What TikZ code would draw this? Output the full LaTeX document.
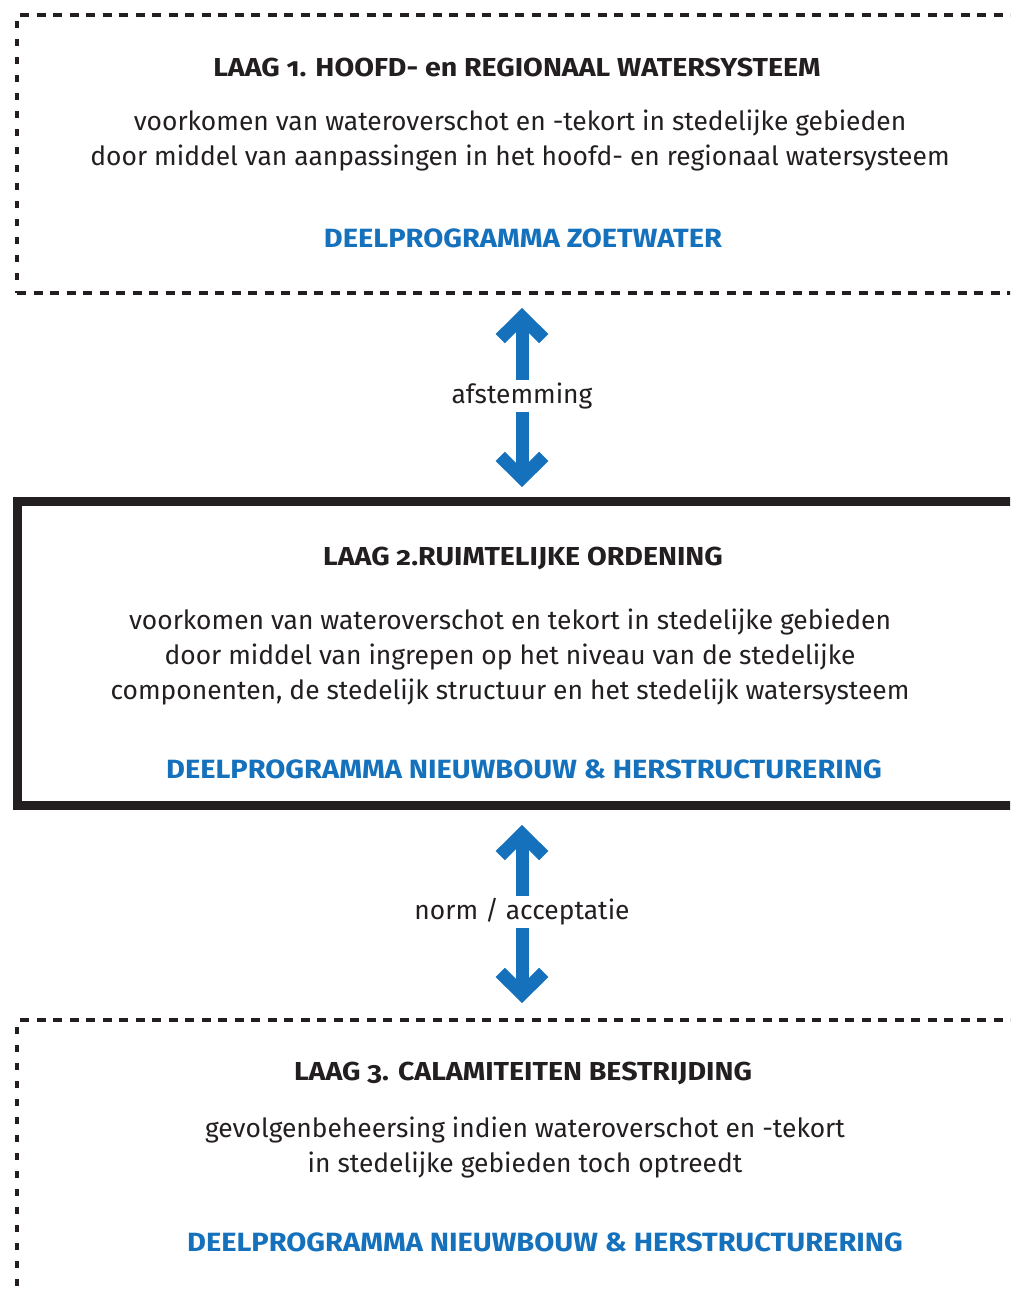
\documentclass[tikz,border=0pt]{standalone}
\usepackage{fontspec}
\setmainfont{Fira Sans}[Numbers=OldStyle]
\newfontfamily\widesans{Fira Sans}[Numbers=OldStyle,FakeStretch=1.1]
\definecolor{ink}{RGB}{35,31,32}
\definecolor{rijksblue}{RGB}{21,113,187}
\begin{document}
\begin{tikzpicture}[x=1pt,y=-1pt,
  hdash/.style={draw=ink,line width=4pt,dash pattern=on 9pt off 7.5pt},
  vdash/.style={draw=ink,line width=4pt,dash pattern=on 7pt off 11pt},
  solidbox/.style={draw=ink,line width=9pt,line join=miter},
  title/.style={font=\widesans\fontsize{26}{30}\selectfont\bfseries,text=ink,inner sep=0pt},
  body/.style={font=\fontsize{26.4}{35}\selectfont,text=ink,align=center,inner sep=0pt},
  prog/.style={font=\widesans\fontsize{26.4}{30}\selectfont\bfseries,text=rijksblue,inner sep=0pt},
  link/.style={font=\fontsize{26.4}{30}\selectfont,text=ink,inner sep=0pt,minimum height=31pt},
  shaft/.style={draw=rijksblue,line width=13pt},
  chevron/.style={draw=rijksblue,line width=13pt,line join=miter,miter limit=4}]
\useasboundingbox (0,0) rectangle (1010,1293);
\begin{scope}
\clip (0,0) rectangle (1010,1293);

% layer 1: dashed frame
\draw[hdash] (20,15) -- (1040,15);
\draw[hdash] (17,293) -- (1040,293);
\draw[vdash] (17,21) -- (17,293);

% layer 2: solid frame
\draw[solidbox] (17,501) rectangle (1060,805);

% layer 3: dashed frame, open below
\draw[hdash] (20,1020) -- (1040,1020);
\draw[vdash] (17,1027) -- (17,1310);
\end{scope}

% layer 1 texts
\node[title] (t1) at (517,67) {LAAG 1. HOOFD- en REGIONAAL WATERSYSTEEM};
\node[body]  (b1) at (520,141) {voorkomen van wateroverschot en -tekort in stedelijke gebieden\\door middel van aanpassingen in het hoofd- en regionaal watersysteem};
\node[prog]  (p1) at (523,238) {DEELPROGRAMMA ZOETWATER};

% layer 2 texts
\node[title] (t2) at (523,558) {LAAG 2.RUIMTELIJKE ORDENING};
\node[body]  (b2) at (510,657) {voorkomen van wateroverschot en tekort in stedelijke gebieden\\door middel van ingrepen op het niveau van de stedelijke\\componenten, de stedelijk structuur en het stedelijk watersysteem};
\node[prog]  (p2) at (524,769) {DEELPROGRAMMA NIEUWBOUW \& HERSTRUCTURERING};

% layer 3 texts
\node[title] (t3) at (523,1073) {LAAG 3. CALAMITEITEN BESTRIJDING};
\node[body]  (b3) at (525,1147) {gevolgenbeheersing indien wateroverschot en -tekort\\in stedelijke gebieden toch optreedt};
\node[prog]  (p3) at (545,1242) {DEELPROGRAMMA NIEUWBOUW \& HERSTRUCTURERING};

% link between layer 1 and 2
\node[link] (l1) at (522,396) {afstemming};
\coordinate (l1up) at (522,317);
\coordinate (l1dn) at (522,478);
\draw[shaft] (l1.north) -- (l1up);
\draw[shaft] (l1.south) -- (l1dn);
\draw[chevron] (l1up) ++(-21.7,21.6) -- (l1up) -- ++(21.7,21.6);
\draw[chevron] (l1dn) ++(-21.7,-21.6) -- (l1dn) -- ++(21.7,-21.6);

% link between layer 2 and 3
\node[link] (l2) at (522,912) {norm / acceptatie};
\coordinate (l2up) at (522,834);
\coordinate (l2dn) at (522,994);
\draw[shaft] (l2.north) -- (l2up);
\draw[shaft] (l2.south) -- (l2dn);
\draw[chevron] (l2up) ++(-21.7,21.6) -- (l2up) -- ++(21.7,21.6);
\draw[chevron] (l2dn) ++(-21.7,-21.6) -- (l2dn) -- ++(21.7,-21.6);
\end{tikzpicture}
\end{document}
